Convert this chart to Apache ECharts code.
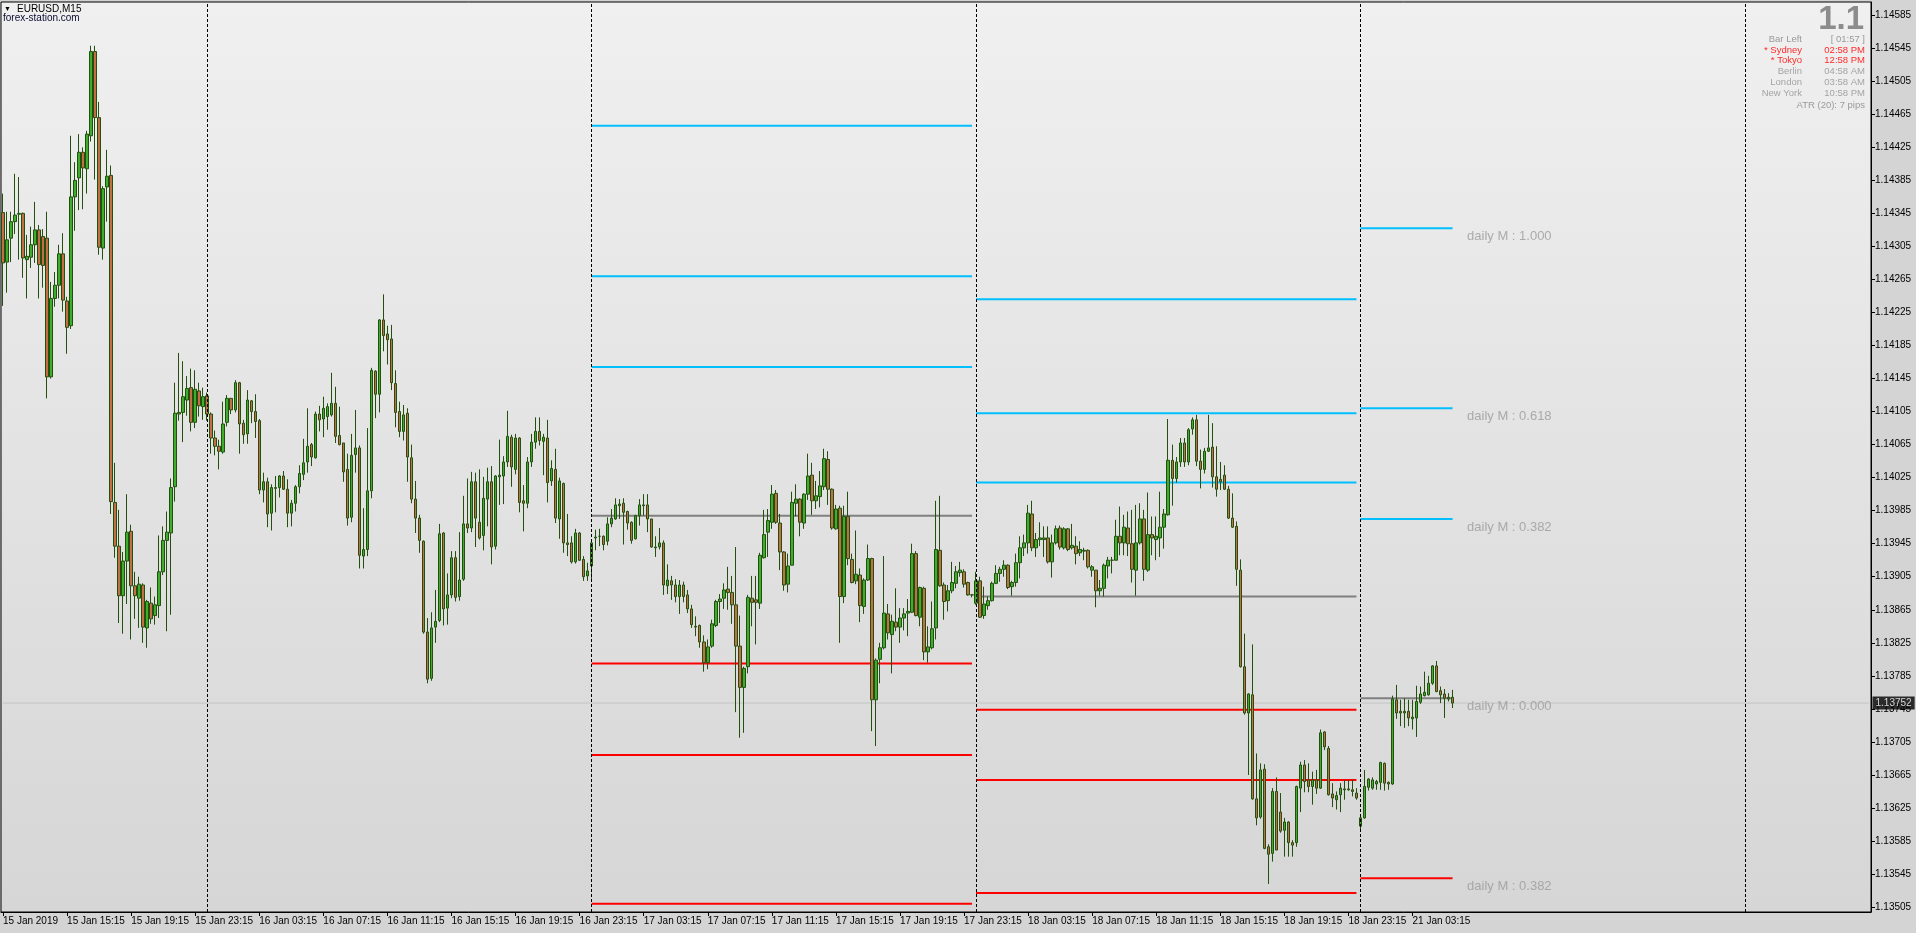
<!DOCTYPE html>
<html>
<head>
<meta charset="utf-8">
<script src="https://cdn.jsdelivr.net/npm/echarts@6/dist/echarts.min.js"></script>
<style>
html,body{margin:0;padding:0;background:#d4d4d4;overflow:hidden;}
#chart{width:1916px;height:933px;}
</style>
</head>
<body>
<div id="chart"></div>
<script>
// ---- OHLC bars, M15, rows are [open, high, low, close] ----
const day15 = [
[1.14346,1.14369,1.14233,1.14285],[1.14286,1.14347,1.14249,1.14313],[1.14315,1.14347,1.14286,1.14335],[1.14335,1.14393,1.14320,1.14343],
[1.14344,1.14389,1.14289,1.14345],[1.14345,1.14346,1.14267,1.14291],[1.14289,1.14319,1.14242,1.14293],[1.14292,1.14329,1.14279,1.14307],
[1.14307,1.14359,1.14285,1.14325],[1.14325,1.14331,1.14242,1.14283],[1.14317,1.14326,1.14255,1.14282],[1.14315,1.14347,1.14121,1.14147],
[1.14147,1.14262,1.14145,1.14242],[1.14242,1.14274,1.14232,1.14258],[1.14258,1.14307,1.14242,1.14296],[1.14296,1.14321,1.14226,1.14240],
[1.14239,1.14244,1.14175,1.14207],[1.14209,1.14439,1.14205,1.14365],[1.14365,1.14407,1.14324,1.14385],[1.14388,1.14441,1.14349,1.14419],
[1.14419,1.14425,1.14350,1.14400],[1.14399,1.14445,1.14369,1.14441],[1.14439,1.14548,1.14432,1.14541],[1.14541,1.14548,1.14386,1.14461],
[1.14461,1.14480,1.14295,1.14304],[1.14303,1.14378,1.14289,1.14375],[1.14377,1.14422,1.14335,1.14390],[1.14391,1.14403,1.13981,1.13996],
[1.13995,1.14043,1.13928,1.13942],[1.13942,1.13986,1.13849,1.13882],[1.13882,1.13935,1.13836,1.13924],[1.13924,1.14005,1.13872,1.13959],
[1.13960,1.13968,1.13829,1.13894],[1.13894,1.13911,1.13854,1.13882],[1.13879,1.13905,1.13843,1.13896],[1.13895,1.13897,1.13825,1.13844],
[1.13843,1.13877,1.13819,1.13875],[1.13873,1.13892,1.13848,1.13854],[1.13858,1.13881,1.13847,1.13871],[1.13870,1.13955,1.13855,1.13911],
[1.13911,1.13966,1.13907,1.13949],[1.13949,1.13984,1.13839,1.13959],[1.13958,1.14024,1.13859,1.14013],[1.14014,1.14140,1.13996,1.14103],
[1.14102,1.14176,1.14094,1.14104],[1.14104,1.14166,1.14068,1.14123],[1.14119,1.14148,1.14100,1.14133],[1.14134,1.14157,1.14081,1.14092],
[1.14092,1.14155,1.14085,1.14132],[1.14130,1.14140,1.14099,1.14112],[1.14111,1.14134,1.14095,1.14123]
];
const day16 = [
[1.14124,1.14128,1.14094,1.14102],[1.14102,1.14104,1.14054,1.14073],[1.14073,1.14082,1.14052,1.14063],[1.14063,1.14071,1.14035,1.14057],
[1.14056,1.14117,1.14054,1.14090],[1.14092,1.14125,1.14087,1.14121],[1.14121,1.14121,1.14102,1.14107],[1.14107,1.14143,1.14104,1.14140],
[1.14140,1.14141,1.14054,1.14090],[1.14091,1.14095,1.14066,1.14077],[1.14078,1.14131,1.14066,1.14119],[1.14118,1.14119,1.14091,1.14105],
[1.14105,1.14126,1.14073,1.14093],[1.14094,1.14096,1.14005,1.14010],[1.14010,1.14031,1.13995,1.14020],[1.14020,1.14025,1.13965,1.13981],
[1.13982,1.14017,1.13961,1.14013],[1.14012,1.14027,1.13983,1.14013],[1.14013,1.14028,1.14001,1.14027],[1.14027,1.14033,1.14010,1.14011],
[1.14011,1.14023,1.13965,1.13982],[1.13982,1.13998,1.13966,1.13994],[1.13994,1.14016,1.13984,1.14014],[1.14014,1.14040,1.14006,1.14030],
[1.14029,1.14072,1.14022,1.14043],[1.14044,1.14109,1.14031,1.14063],[1.14065,1.14067,1.14039,1.14050],[1.14049,1.14105,1.14048,1.14102],
[1.14102,1.14112,1.14081,1.14095],[1.14096,1.14123,1.14074,1.14109],[1.14099,1.14115,1.14083,1.14111],[1.14101,1.14152,1.14099,1.14115],
[1.14115,1.14135,1.14067,1.14075],[1.14076,1.14111,1.14064,1.14065],[1.14067,1.14067,1.14020,1.14032],[1.14035,1.14054,1.13967,1.13976],
[1.13977,1.14078,1.13971,1.14052],[1.14053,1.14107,1.14031,1.14061],[1.14061,1.14064,1.13915,1.13931],[1.13930,1.13988,1.13915,1.13938],
[1.13938,1.14085,1.13930,1.14009],[1.14009,1.14158,1.14000,1.14155],[1.14154,1.14155,1.14097,1.14126],[1.14126,1.14217,1.14104,1.14216],
[1.14216,1.14247,1.14178,1.14197],[1.14199,1.14209,1.14162,1.14192],[1.14193,1.14210,1.14131,1.14140],[1.14139,1.14155,1.14086,1.14104],
[1.14105,1.14117,1.14074,1.14081],[1.14081,1.14113,1.14070,1.14101],[1.14103,1.14109,1.14020,1.14050],[1.14049,1.14065,1.13994,1.13999],
[1.13999,1.14021,1.13958,1.13976],[1.13976,1.13980,1.13934,1.13949],[1.13948,1.13949,1.13836,1.13838],[1.13838,1.13855,1.13776,1.13781],
[1.13782,1.13862,1.13779,1.13843],[1.13844,1.13889,1.13825,1.13851],[1.13852,1.13969,1.13850,1.13957],[1.13958,1.13959,1.13846,1.13866],
[1.13867,1.13909,1.13847,1.13883],[1.13883,1.13936,1.13879,1.13928],[1.13928,1.13936,1.13875,1.13880],[1.13881,1.13959,1.13876,1.13901],
[1.13902,1.14003,1.13900,1.13969],[1.13969,1.14024,1.13958,1.13964],[1.13964,1.14032,1.13959,1.14020],[1.14020,1.14031,1.13941,1.13976],
[1.13971,1.14035,1.13950,1.13952],[1.13955,1.14026,1.13937,1.14000],[1.13999,1.14037,1.13966,1.14020],[1.14020,1.14039,1.13920,1.13941],
[1.13942,1.14028,1.13938,1.14027],[1.14026,1.14071,1.13992,1.14028],[1.14027,1.14051,1.13993,1.14044],[1.14044,1.14106,1.14038,1.14075],
[1.14074,1.14077,1.14014,1.14038],[1.14035,1.14078,1.14029,1.14073],[1.14073,1.14074,1.13983,1.13995],[1.13997,1.14016,1.13960,1.13994],
[1.13994,1.14050,1.13988,1.14044],[1.14044,1.14078,1.14038,1.14068],[1.14068,1.14098,1.14060,1.14081],[1.14081,1.14098,1.14064,1.14070],
[1.14069,1.14078,1.14028,1.14074],[1.14073,1.14095,1.13995,1.14019],[1.14021,1.14046,1.14015,1.14036],[1.14035,1.14060,1.13970,1.13976],
[1.13975,1.14025,1.13951,1.14021],[1.14018,1.14019,1.13934,1.13946],[1.13946,1.13981,1.13930,1.13944],[1.13946,1.13954,1.13921,1.13923],
[1.13923,1.13963,1.13921,1.13958],[1.13958,1.13959,1.13924,1.13925],[1.13926,1.13930,1.13900,1.13905],[1.13906,1.13922,1.13900,1.13912]
];
const day17 = [
[1.13918,1.13948,1.13899,1.13946],[1.13952,1.13962,1.13937,1.13953],[1.13954,1.13963,1.13942,1.13954],[1.13954,1.13955,1.13937,1.13944],
[1.13948,1.13977,1.13943,1.13969],[1.13969,1.13987,1.13965,1.13976],[1.13975,1.14000,1.13974,1.13992],[1.13991,1.13999,1.13975,1.13993],
[1.13994,1.14000,1.13944,1.13983],[1.13984,1.13985,1.13962,1.13970],[1.13971,1.13972,1.13945,1.13949],[1.13951,1.13980,1.13950,1.13979],
[1.13979,1.13999,1.13967,1.13992],[1.13991,1.14005,1.13979,1.13992],[1.13992,1.14005,1.13959,1.13975],[1.13975,1.13975,1.13940,1.13941],
[1.13941,1.13954,1.13929,1.13940],[1.13941,1.13964,1.13938,1.13946],[1.13946,1.13949,1.13883,1.13895],[1.13894,1.13920,1.13884,1.13901],
[1.13900,1.13906,1.13877,1.13895],[1.13895,1.13902,1.13874,1.13881],[1.13881,1.13901,1.13860,1.13895],[1.13895,1.13899,1.13874,1.13881],
[1.13883,1.13889,1.13861,1.13866],[1.13866,1.13871,1.13843,1.13847],[1.13844,1.13857,1.13833,1.13845],[1.13846,1.13847,1.13819,1.13826],
[1.13826,1.13834,1.13790,1.13801],[1.13801,1.13829,1.13793,1.13820],[1.13821,1.13853,1.13819,1.13848],[1.13846,1.13877,1.13844,1.13875],
[1.13875,1.13884,1.13849,1.13878],[1.13879,1.13897,1.13866,1.13889],[1.13890,1.13917,1.13865,1.13886],[1.13886,1.13906,1.13848,1.13871],
[1.13871,1.13941,1.13741,1.13821],[1.13821,1.13858,1.13710,1.13771],[1.13771,1.13796,1.13716,1.13794],[1.13796,1.13883,1.13788,1.13880],
[1.13879,1.13906,1.13845,1.13874],[1.13877,1.13906,1.13823,1.13874],[1.13873,1.13934,1.13866,1.13931],[1.13928,1.13986,1.13927,1.13956],
[1.13959,1.13987,1.13929,1.13973],[1.13971,1.14016,1.13963,1.14005],[1.14006,1.14010,1.13969,1.13971],[1.13970,1.13981,1.13913,1.13935],
[1.13935,1.13936,1.13888,1.13895],[1.13896,1.13933,1.13886,1.13918],[1.13919,1.14008,1.13919,1.13995],[1.13994,1.14017,1.13978,1.13999],
[1.13999,1.14000,1.13954,1.13971],[1.13970,1.14006,1.13963,1.14005],[1.14005,1.14054,1.13998,1.14027],[1.14028,1.14043,1.13980,1.13997],
[1.13997,1.14021,1.13987,1.14003],[1.14002,1.14033,1.13989,1.14015],[1.14014,1.14060,1.14010,1.14048],[1.14047,1.14057,1.13992,1.14011],
[1.14011,1.14012,1.13962,1.13964],[1.13963,1.13992,1.13962,1.13987],[1.13988,1.13991,1.13825,1.13881],[1.13881,1.13991,1.13873,1.13978],
[1.13978,1.14008,1.13919,1.13927],[1.13926,1.13933,1.13897,1.13898],[1.13900,1.13961,1.13896,1.13908],[1.13907,1.13915,1.13850,1.13870],
[1.13869,1.13903,1.13860,1.13901],[1.13901,1.13944,1.13900,1.13927],[1.13927,1.13928,1.13718,1.13756],[1.13756,1.13806,1.13700,1.13804],
[1.13805,1.13825,1.13776,1.13819],[1.13819,1.13930,1.13817,1.13861],[1.13860,1.13872,1.13829,1.13837],[1.13835,1.13859,1.13788,1.13851],
[1.13850,1.13891,1.13839,1.13844],[1.13844,1.13867,1.13825,1.13855],[1.13855,1.13867,1.13840,1.13860],[1.13861,1.13878,1.13833,1.13863],
[1.13862,1.13945,1.13861,1.13933],[1.13933,1.13936,1.13857,1.13858],[1.13856,1.13893,1.13845,1.13892],[1.13891,1.13893,1.13804,1.13814],
[1.13814,1.13845,1.13801,1.13820],[1.13819,1.13875,1.13817,1.13842],[1.13843,1.13997,1.13829,1.13938],[1.13937,1.14003,1.13893,1.13894],
[1.13895,1.13898,1.13853,1.13875],[1.13876,1.13895,1.13863,1.13888],[1.13888,1.13923,1.13885,1.13898],[1.13897,1.13918,1.13891,1.13911],
[1.13910,1.13923,1.13905,1.13913],[1.13911,1.13914,1.13892,1.13896],[1.13898,1.13899,1.13882,1.13883],[1.13883,1.13884,1.13880,1.13883]
];
const day18 = [
[1.13873,1.13911,1.13871,1.13900],[1.13900,1.13905,1.13855,1.13856],[1.13858,1.13893,1.13854,1.13872],[1.13870,1.13881,1.13865,1.13876],
[1.13876,1.13899,1.13875,1.13897],[1.13897,1.13919,1.13896,1.13909],[1.13909,1.13917,1.13899,1.13914],[1.13914,1.13925,1.13905,1.13919],
[1.13919,1.13920,1.13890,1.13892],[1.13893,1.13900,1.13882,1.13898],[1.13898,1.13933,1.13893,1.13922],[1.13922,1.13954,1.13903,1.13940],
[1.13940,1.13956,1.13930,1.13946],[1.13946,1.13992,1.13933,1.13982],[1.13981,1.13997,1.13936,1.13940],[1.13940,1.13958,1.13929,1.13950],
[1.13950,1.13971,1.13942,1.13952],[1.13950,1.13966,1.13929,1.13952],[1.13952,1.13966,1.13921,1.13923],[1.13923,1.13956,1.13904,1.13946],
[1.13946,1.13967,1.13944,1.13963],[1.13964,1.13967,1.13938,1.13941],[1.13940,1.13965,1.13938,1.13963],[1.13963,1.13964,1.13936,1.13938],
[1.13940,1.13969,1.13938,1.13943],[1.13942,1.13954,1.13920,1.13933],[1.13934,1.13948,1.13930,1.13938],[1.13937,1.13940,1.13925,1.13936],
[1.13937,1.13938,1.13915,1.13917],[1.13913,1.13919,1.13905,1.13917],[1.13913,1.13913,1.13868,1.13888],[1.13888,1.13901,1.13882,1.13891],
[1.13891,1.13921,1.13881,1.13919],[1.13918,1.13929,1.13903,1.13925],[1.13925,1.13929,1.13909,1.13925],[1.13925,1.13974,1.13925,1.13954],
[1.13954,1.13990,1.13931,1.13946],[1.13946,1.13980,1.13931,1.13965],[1.13964,1.13984,1.13930,1.13945],[1.13945,1.13986,1.13898,1.13914],
[1.13913,1.13992,1.13882,1.13946],[1.13946,1.13994,1.13944,1.13975],[1.13975,1.13986,1.13900,1.13914],[1.13913,1.14007,1.13911,1.13956],
[1.13956,1.13978,1.13931,1.13952],[1.13950,1.13978,1.13925,1.13954],[1.13952,1.14008,1.13929,1.13965],[1.13965,1.13987,1.13939,1.13981],
[1.13980,1.14096,1.13979,1.14046],[1.14046,1.14065,1.13991,1.14024],[1.14024,1.14050,1.14019,1.14044],[1.14044,1.14073,1.14038,1.14067],
[1.14067,1.14073,1.14038,1.14044],[1.14044,1.14085,1.14040,1.14083],[1.14084,1.14098,1.14077,1.14095],[1.14095,1.14101,1.14039,1.14045],
[1.14045,1.14059,1.14012,1.14035],[1.14035,1.14061,1.14030,1.14057],[1.14057,1.14101,1.14056,1.14061],[1.14062,1.14091,1.14013,1.14026],
[1.14026,1.14063,1.14002,1.14011],[1.14023,1.14044,1.14010,1.14020],[1.14028,1.14040,1.14010,1.14011],[1.14011,1.14015,1.13975,1.13976],
[1.13976,1.14006,1.13964,1.13965],[1.13966,1.13972,1.13894,1.13914],[1.13913,1.13926,1.13795,1.13796],[1.13796,1.13836,1.13738,1.13740],
[1.13740,1.13764,1.13665,1.13763],[1.13762,1.13823,1.13635,1.13636],[1.13636,1.13691,1.13604,1.13613],[1.13614,1.13679,1.13612,1.13671],
[1.13672,1.13678,1.13575,1.13576],[1.13578,1.13581,1.13533,1.13569],[1.13570,1.13649,1.13560,1.13645],[1.13645,1.13662,1.13574,1.13574],
[1.13620,1.13643,1.13595,1.13597],[1.13598,1.13613,1.13566,1.13608],[1.13608,1.13609,1.13566,1.13583],[1.13583,1.13586,1.13566,1.13580],
[1.13583,1.13652,1.13578,1.13651],[1.13649,1.13681,1.13620,1.13677],[1.13677,1.13683,1.13644,1.13657],[1.13659,1.13679,1.13644,1.13651],
[1.13651,1.13669,1.13629,1.13659],[1.13659,1.13671,1.13642,1.13649],[1.13649,1.13720,1.13648,1.13716],[1.13717,1.13718,1.13695,1.13699],
[1.13697,1.13700,1.13640,1.13641],[1.13642,1.13655,1.13626,1.13637],[1.13635,1.13645,1.13623,1.13640],[1.13641,1.13655,1.13620,1.13649],
[1.13648,1.13659,1.13635,1.13647],[1.13648,1.13659,1.13646,1.13647],[1.13647,1.13659,1.13639,1.13645],[1.13643,1.13649,1.13635,1.13637]
];
const day21 = [
[1.13603,1.13615,1.13597,1.13613],[1.13613,1.13671,1.13612,1.13651],[1.13650,1.13661,1.13646,1.13660],[1.13649,1.13662,1.13647,1.13659],
[1.13654,1.13659,1.13647,1.13657],[1.13656,1.13681,1.13647,1.13680],[1.13679,1.13680,1.13646,1.13655],[1.13656,1.13657,1.13647,1.13654],
[1.13654,1.13761,1.13653,1.13757],[1.13756,1.13774,1.13733,1.13740],[1.13740,1.13756,1.13724,1.13742],[1.13742,1.13758,1.13722,1.13740],
[1.13742,1.13756,1.13724,1.13734],[1.13733,1.13756,1.13720,1.13735],[1.13734,1.13773,1.13711,1.13754],[1.13753,1.13772,1.13751,1.13763],
[1.13761,1.13790,1.13760,1.13765],[1.13762,1.13785,1.13761,1.13776],[1.13776,1.13798,1.13774,1.13797],[1.13797,1.13803,1.13765,1.13766],
[1.13767,1.13772,1.13752,1.13762],[1.13763,1.13769,1.13734,1.13758],[1.13757,1.13764,1.13754,1.13759],[1.13759,1.13768,1.13746,1.13752]
];

// ---- daily level lines ----
const lvl17Blue = [1.14451, 1.14269, 1.14159];
const lvl17Gray = [1.13979];
const lvl17Red  = [1.13800, 1.13689, 1.13509];
const lvl18Blue = [1.14241, 1.14103, 1.14019];
const lvl18Gray = [1.13881];
const lvl18Red  = [1.13744, 1.13659, 1.13522];
const lvl21Blue = [1.14327, 1.14109, 1.13975];
const lvl21Gray = [1.13758];
const lvl21Red  = [1.13540];
const lvl21Prices = [1.14327, 1.14109, 1.13975, 1.13758, 1.13540];
const lvl21Names  = ['daily M : 1.000', 'daily M : 0.618', 'daily M : 0.382', 'daily M : 0.000', 'daily M : 0.382'];

const lastPrice = 1.13752;

// ---- axis tick labels ----
const yTicks = [1.13505,1.13545,1.13585,1.13625,1.13665,1.13705,1.13745,1.13785,1.13825,1.13865,1.13905,1.13945,1.13985,1.14025,
                1.14065,1.14105,1.14145,1.14185,1.14225,1.14265,1.14305,1.14345,1.14385,1.14425,1.14465,1.14505,1.14545,1.14585];
const xTickLabels = ['15 Jan 2019','15 Jan 15:15','15 Jan 19:15','15 Jan 23:15','16 Jan 03:15','16 Jan 07:15','16 Jan 11:15',
  '16 Jan 15:15','16 Jan 19:15','16 Jan 23:15','17 Jan 03:15','17 Jan 07:15','17 Jan 11:15','17 Jan 15:15','17 Jan 19:15',
  '17 Jan 23:15','18 Jan 03:15','18 Jan 07:15','18 Jan 11:15','18 Jan 15:15','18 Jan 19:15','18 Jan 23:15','21 Jan 03:15'];
const xTickEvery = 16;

// ---- info panel texts ----
const infoLabels = ['Bar Left', '* Sydney', '* Tokyo', 'Berlin', 'London', 'New York'];
const infoValues = ['[ 01:57 ]', '02:58 PM', '12:58 PM', '04:58 AM', '03:58 AM', '10:58 PM'];
const infoColors = ['#9a9a9a', '#ff2b2b', '#ff2b2b', '#a4a4a4', '#a4a4a4', '#a4a4a4'];
const atrText = 'ATR (20): 7 pips';

// ---- build categories (M15 bars, weekend skipped) ----
const TOTAL_SLOTS = 467;
const preWeekendBars = day15.length + day16.length + day17.length + day18.length;
const start1 = Date.UTC(2019, 0, 15, 11, 15);
const start2 = Date.UTC(2019, 0, 21, 0, 0);
const Q = 15 * 60 * 1000;
function fmt(t) {
  const d = new Date(t);
  return d.getUTCDate() + ' Jan ' + String(d.getUTCHours()).padStart(2, '0') + ':' + String(d.getUTCMinutes()).padStart(2, '0');
}
const categories = [];
for (let i = 0; i < TOTAL_SLOTS; i++) {
  categories.push(fmt(i < preWeekendBars ? start1 + i * Q : start2 + (i - preWeekendBars) * Q));
}
const bars = [].concat(day15, day16, day17, day18, day21).map(b => [b[0], b[3], b[2], b[1]]);

const d16 = day15.length, d17 = d16 + day16.length, d18 = d17 + day17.length, d21 = d18 + day18.length;
const dayStarts = [d16, d17, d18, d21, d21 + 96];
const span17 = [d17, d17 + day17.length - 1];
const span18 = [d18, d18 + day18.length - 1];
const span21 = [d21, d21 + day21.length - 1];

const FONT = "'Liberation Sans', Arial, sans-serif";
const BLUE = '#00bfff', RED = '#ff0000', GRAY = '#808080';

function levelSeries(prices, span, color) {
  return prices.map(p => ({
    type: 'line', data: [[span[0], p], [span[1], p]], symbol: 'none', silent: true, z: 3,
    lineStyle: { color: color, width: 2 }, animation: false
  }));
}

const tickShown = (idx) => idx % xTickEvery === 0 && idx / xTickEvery < xTickLabels.length;

const series = [
  // current price line, across the whole chart
  {
    type: 'line', data: [[0, lastPrice], [TOTAL_SLOTS - 1, lastPrice]], symbol: 'none', silent: true, z: 1,
    lineStyle: { color: '#c4c4c4', width: 1 }, animation: false
  },
  {
    type: 'candlestick', data: bars, barWidth: 3, z: 4,
    itemStyle: { color: '#3dae2c', color0: '#c46e45', borderColor: '#24500f', borderColor0: '#24500f', borderWidth: 1 },
    markLine: {
      symbol: ['none', 'none'], silent: true, animation: false,
      label: { show: false },
      lineStyle: { color: '#000', width: 1, type: [3, 2] },
      data: dayStarts.map(i => ({ xAxis: i }))
    }
  },
  ...levelSeries(lvl17Blue, span17, BLUE), ...levelSeries(lvl17Gray, span17, GRAY), ...levelSeries(lvl17Red, span17, RED),
  ...levelSeries(lvl18Blue, span18, BLUE), ...levelSeries(lvl18Gray, span18, GRAY), ...levelSeries(lvl18Red, span18, RED),
  ...levelSeries(lvl21Blue, span21, BLUE), ...levelSeries(lvl21Gray, span21, GRAY), ...levelSeries(lvl21Red, span21, RED),
  {
    type: 'scatter', silent: true, symbol: 'circle', symbolSize: 1, z: 5,
    itemStyle: { color: 'rgba(0,0,0,0)' },
    data: lvl21Prices.map((p, i) => ({ value: [span21[1], p], name: lvl21Names[i] })),
    label: { show: true, position: 'right', distance: 14, offset: [0, 8], formatter: '{b}',
             color: '#9a9a9a', fontSize: 13, fontFamily: FONT }
  },
  // price tag on the axis
  {
    type: 'scatter', silent: true, symbol: 'circle', symbolSize: 1, z: 10, clip: false,
    itemStyle: { color: 'rgba(0,0,0,0)' },
    data: [{ value: [TOTAL_SLOTS - 1, lastPrice], name: lastPrice.toFixed(5) }],
    label: { show: true, position: 'right', distance: 3, formatter: '{b}', color: '#fff', backgroundColor: '#000',
             padding: [2, 3, 1, 3], fontSize: 10, fontFamily: FONT }
  }
];

const graphics = [
  { type: 'text', x: 4, y: 9, style: { text: '\u25BC', fill: '#000', font: '7px ' + FONT, textAlign: 'left', textVerticalAlign: 'middle' } },
  { type: 'text', x: 17, y: 9, style: { text: 'EURUSD,M15', fill: '#000', font: '10px ' + FONT, textAlign: 'left', textVerticalAlign: 'middle' } },
  { type: 'text', x: 3, y: 18, style: { text: 'forex-station.com', fill: '#0a0a30', font: '10px ' + FONT, textAlign: 'left', textVerticalAlign: 'middle' } },
  { type: 'text', x: 1864, y: 20, style: { text: '1.1', fill: '#8c8c8c', font: 'bold 33px ' + FONT, textAlign: 'right', textVerticalAlign: 'middle' } },
  { type: 'text', x: 1865, y: 105, style: { text: atrText, fill: '#9a9a9a', font: '9.5px ' + FONT, textAlign: 'right', textVerticalAlign: 'middle' } }
];
infoLabels.forEach((t, i) => {
  const y = 39 + i * 10.9;
  graphics.push({ type: 'text', x: 1802, y: y, style: { text: t, fill: infoColors[i], font: '9.5px ' + FONT, textAlign: 'right', textVerticalAlign: 'middle' } });
  graphics.push({ type: 'text', x: 1865, y: y, style: { text: infoValues[i], fill: infoColors[i], font: '9.5px ' + FONT, textAlign: 'right', textVerticalAlign: 'middle' } });
});

const chart = echarts.init(document.getElementById('chart'), null, { renderer: 'canvas' });
chart.setOption({
  animation: false,
  backgroundColor: '#d4d4d4',
  grid: {
    left: 1, right: 45, top: 2, bottom: 21, show: true, borderColor: '#000', borderWidth: 1,
    backgroundColor: new echarts.graphic.LinearGradient(0, 0, 0, 1, [{ offset: 0, color: '#f0f0f0' }, { offset: 1, color: '#d6d6d6' }])
  },
  xAxis: {
    type: 'category', data: categories, boundaryGap: true,
    axisLine: { show: true, lineStyle: { color: '#000', width: 1 } },
    axisTick: { show: true, alignWithLabel: true, interval: tickShown, length: 4, lineStyle: { color: '#000' } },
    axisLabel: {
      show: true, interval: tickShown, align: 'left', margin: 4, color: '#000', fontSize: 10, fontFamily: FONT,
      formatter: (v, idx) => xTickLabels[idx / xTickEvery] || ''
    },
    splitLine: { show: false }
  },
  yAxis: {
    type: 'value', position: 'right', min: 1.13499, max: 1.14601, scale: true,
    axisLine: { show: true, lineStyle: { color: '#000', width: 1 } },
    axisTick: { show: true, length: 4, customValues: yTicks, lineStyle: { color: '#000' } },
    axisLabel: { show: true, customValues: yTicks, margin: 4, color: '#000', fontSize: 10, fontFamily: FONT,
                 formatter: v => Number(v).toFixed(5) },
    splitLine: { show: false }
  },
  graphic: graphics,
  series: series
});
</script>
</body>
</html>
